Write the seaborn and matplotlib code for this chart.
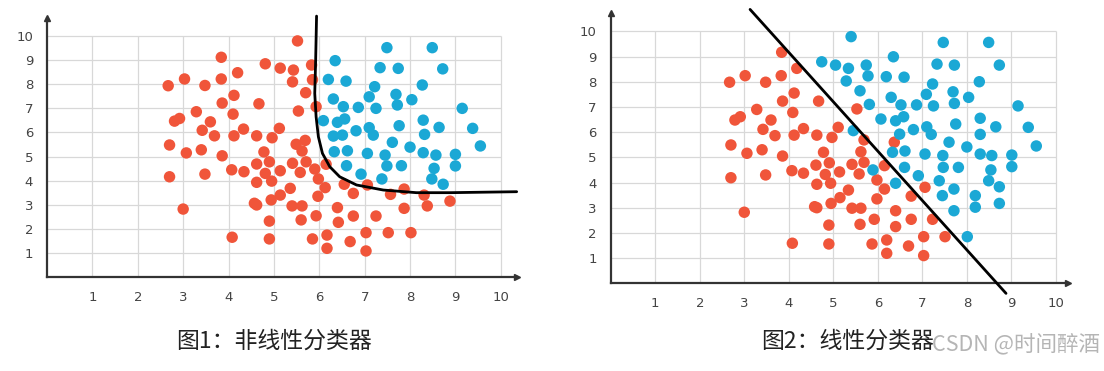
import numpy as np
import pandas as pd
import seaborn as sns
import matplotlib.pyplot as plt

# ---- figure 1 (nonlinear classifier) points ----
p1_red_x = [5.52, 3.84, 4.81, 5.14, 5.43, 5.83, 4.20, 3.03, 2.67, 3.48, 3.84, 5.41, 5.85, 5.70,
            4.12, 3.86, 4.67, 5.54, 5.93, 3.29, 4.10, 2.81, 2.92, 3.60, 3.42, 3.69, 4.12, 4.33,
            4.62, 4.96, 5.12, 2.70, 3.07, 3.40, 3.86, 4.78, 5.49, 5.69, 5.62, 2.70, 3.48, 4.07,
            4.34, 4.62, 4.90, 4.81, 5.14, 4.95, 4.62, 5.41, 5.71, 5.58, 5.90, 5.98, 6.15, 5.36,
            5.14, 4.94, 4.57, 4.62, 5.40, 5.62, 5.97, 6.13, 3.00, 4.90, 5.60, 5.93, 4.08, 4.90,
            5.85, 6.17, 6.17, 6.55, 6.75, 7.06, 7.57, 7.87, 8.31, 8.88, 8.38, 7.87, 6.40, 6.75,
            7.25, 6.42, 7.03, 7.52, 8.02, 6.68, 7.03]
p1_red_y = [9.80, 9.12, 8.85, 8.67, 8.59, 8.80, 8.48, 8.22, 7.94, 7.95, 8.22, 8.10, 8.19, 7.65,
            7.54, 7.22, 7.19, 6.89, 7.07, 6.86, 6.76, 6.47, 6.58, 6.44, 6.09, 5.86, 5.86, 6.14,
            5.86, 5.78, 6.17, 5.48, 5.15, 5.28, 5.03, 5.19, 5.51, 5.67, 5.23, 4.16, 4.27, 4.45,
            4.37, 4.69, 4.78, 4.30, 4.41, 3.98, 3.93, 4.72, 4.78, 4.34, 4.48, 4.07, 4.68, 3.68,
            3.40, 3.20, 3.06, 2.99, 2.95, 2.95, 3.35, 3.71, 2.82, 2.32, 2.37, 2.54, 1.65, 1.58,
            1.58, 1.74, 1.19, 3.85, 3.47, 3.82, 3.43, 3.65, 3.40, 3.15, 2.95, 2.85, 2.88, 2.53,
            2.53, 2.27, 1.84, 1.84, 1.84, 1.47, 1.08]
p1_blue_x = [7.49, 8.49, 6.35, 7.34, 7.74, 8.72, 6.20, 6.59, 7.22, 8.27, 7.10, 7.69, 7.72, 8.04,
             6.31, 6.53, 6.86, 7.25, 9.15, 6.09, 6.40, 6.56, 6.81, 7.10, 7.19, 7.76, 8.29, 8.64,
             9.38, 9.55, 6.31, 6.51, 8.32, 7.61, 8.00, 6.33, 6.62, 7.06, 7.45, 7.49, 7.81, 8.29,
             8.57, 9.00, 9.00, 6.60, 6.92, 7.38, 8.53, 8.48, 8.73]
p1_blue_y = [9.52, 9.52, 8.98, 8.69, 8.66, 8.64, 8.20, 8.13, 7.90, 7.97, 7.48, 7.58, 7.14, 7.36,
             7.39, 7.07, 7.04, 7.00, 7.00, 6.49, 6.42, 6.56, 6.07, 6.20, 5.89, 6.28, 6.51, 6.21,
             6.17, 5.44, 5.85, 5.89, 5.92, 5.59, 5.39, 5.20, 5.24, 5.13, 5.06, 4.61, 4.62, 5.16,
             5.06, 5.09, 4.61, 4.62, 4.27, 4.07, 4.51, 4.07, 3.85]
# curve
curve_x = [5.94, 5.92, 5.90, 5.93, 5.98, 6.07, 6.23, 6.45, 6.82, 7.41, 8.14, 8.88, 10.35]
curve_y = [10.83, 9.00, 7.62, 6.65, 5.82, 5.13, 4.58, 4.16, 3.82, 3.61, 3.50, 3.50, 3.54]

# ---- figure 2 (linear classifier) points ----
p2_red_x = [3.84, 4.18, 3.02, 2.67, 3.48, 3.83, 4.12, 3.86, 4.67, 5.53, 3.28, 4.09, 2.79, 2.91,
            3.60, 3.42, 3.69, 4.12, 4.33, 4.63, 4.97, 5.11, 2.70, 3.06, 3.40, 3.86, 4.78, 5.69,
            5.62, 2.70, 3.48, 4.07, 4.33, 4.61, 4.91, 4.82, 5.14, 4.94, 4.63, 5.42, 5.69, 5.58,
            5.34, 5.15, 4.95, 4.58, 4.63, 5.42, 5.62, 5.98, 6.15, 5.98, 6.15, 3.00, 4.90, 5.60,
            5.92, 4.08, 4.90, 5.87, 6.20, 6.20, 6.37, 6.75, 7.06, 6.40, 6.40, 6.75, 7.23, 7.03,
            7.51, 6.69, 7.03]
p2_red_y = [9.17, 8.53, 8.24, 7.98, 7.98, 8.24, 7.55, 7.23, 7.23, 6.92, 6.90, 6.78, 6.48, 6.61,
            6.48, 6.11, 5.86, 5.88, 6.14, 5.88, 5.79, 6.19, 5.49, 5.16, 5.30, 5.05, 5.20, 5.69,
            5.22, 4.19, 4.30, 4.47, 4.37, 4.69, 4.78, 4.32, 4.42, 3.97, 3.93, 4.72, 4.80, 4.34,
            3.70, 3.40, 3.17, 3.04, 3.00, 2.98, 2.98, 3.35, 3.74, 4.10, 4.67, 2.82, 2.31, 2.34,
            2.54, 1.59, 1.56, 1.56, 1.72, 1.19, 5.60, 3.46, 3.81, 2.88, 2.25, 2.54, 2.54, 1.85,
            1.85, 1.48, 1.10]
p2_blue_x = [5.40, 4.74, 5.05, 5.34, 5.74, 5.29, 5.78, 5.60, 5.81, 6.07, 5.45, 5.89, 7.47, 8.49,
             6.35, 7.33, 7.72, 8.73, 6.19, 6.59, 7.23, 8.28, 7.09, 7.69, 7.72, 8.04, 6.30, 6.52,
             6.87, 7.25, 9.15, 6.40, 6.58, 6.80, 7.10, 7.20, 7.75, 8.30, 8.65, 9.38, 9.56, 6.49,
             8.30, 7.60, 8.00, 6.33, 6.61, 7.06, 7.46, 7.47, 7.81, 8.30, 8.56, 9.01, 9.01, 6.60,
             6.91, 7.38, 8.54, 8.49, 8.73, 6.40, 7.45, 7.71, 8.19, 8.19, 8.73, 7.71, 8.01]
p2_blue_y = [9.79, 8.79, 8.66, 8.53, 8.66, 8.03, 8.23, 7.64, 7.10, 6.52, 6.06, 4.50, 9.56, 9.56,
             8.99, 8.70, 8.66, 8.66, 8.20, 8.18, 7.91, 8.00, 7.50, 7.60, 7.14, 7.38, 7.38, 7.08,
             7.08, 7.04, 7.04, 6.45, 6.61, 6.10, 6.21, 5.91, 6.32, 6.55, 6.21, 6.19, 5.45, 5.92,
             5.91, 5.60, 5.41, 5.20, 5.25, 5.13, 5.07, 4.60, 4.60, 5.13, 5.07, 5.09, 4.63, 4.60,
             4.27, 4.07, 4.50, 4.07, 3.83, 3.97, 3.48, 3.74, 3.48, 3.02, 3.17, 2.88, 1.85]
line_x = [3.13, 8.88]
line_y = [10.87, -0.40]

ticks = list(range(1, 11))
captions = ['图1：非线性分类器', '图2：线性分类器']
palette = {'red': '#f0553a', 'blue': '#1ba8d5'}

sns.set_style('white')
plt.rcParams['font.family'] = ['Noto Sans CJK SC', 'DejaVu Sans']

fig = plt.figure(figsize=(11.04, 3.71), dpi=100)
ax1 = fig.add_axes([0.0426, 0.2534, 0.4254, 0.698])
ax2 = fig.add_axes([0.5532, 0.2364, 0.4145, 0.7294])


def make_df(rx, ry, bx, by):
    return pd.DataFrame({
        'x': rx + bx,
        'y': ry + by,
        'cls': ['red'] * len(rx) + ['blue'] * len(bx),
    })


def style_axes(ax, xmax, ymax):
    ax.set_xlim(0, xmax)
    ax.set_ylim(0, ymax)
    ax.vlines(ticks, 0, 10, color='#d8d8d8', lw=0.9, zorder=0)
    ax.hlines(ticks, 0, 10, color='#d8d8d8', lw=0.9, zorder=0)
    for s in ['top', 'right']:
        ax.spines[s].set_visible(False)
    for s in ['left', 'bottom']:
        ax.spines[s].set_color('#333333')
        ax.spines[s].set_linewidth(1.6)
    ax.plot(0, 1, marker='^', ms=4, color='#333333', transform=ax.transAxes, clip_on=False)
    ax.plot(1, 0, marker='>', ms=4, color='#333333', transform=ax.transAxes, clip_on=False)
    ax.set_xticks(ticks)
    ax.set_yticks(ticks)
    ax.set_xticklabels([str(t) for t in ticks], family='DejaVu Sans')
    ax.set_yticklabels([str(t) for t in ticks], family='DejaVu Sans')
    ax.tick_params(length=0, pad=10, labelsize=9.5, labelcolor='#444444')
    ax.set_xlabel('')
    ax.set_ylabel('')


df1 = make_df(p1_red_x, p1_red_y, p1_blue_x, p1_blue_y)
sns.scatterplot(data=df1, x='x', y='y', hue='cls', palette=palette, s=68,
                edgecolor='none', legend=False, ax=ax1, zorder=3)
ax1.plot(curve_x, curve_y, color='black', lw=2, clip_on=False, zorder=4)
style_axes(ax1, 10.35, 10.75)

df2 = make_df(p2_red_x, p2_red_y, p2_blue_x, p2_blue_y)
sns.scatterplot(data=df2, x='x', y='y', hue='cls', palette=palette, s=68,
                edgecolor='none', legend=False, ax=ax2, zorder=3)
ax2.plot(line_x, line_y, color='black', lw=2, clip_on=False, zorder=4)
style_axes(ax2, 10.28, 10.74)

fig.text(274.5 / 1104, 1 - 341 / 371, captions[0], fontsize=16.5, color='#222222',
         ha='center', va='center')
fig.text(848 / 1104, 1 - 341 / 371, captions[1], fontsize=16.5, color='#222222',
         ha='center', va='center')
fig.text(1100 / 1104, 1 - 345 / 371, 'CSDN @时间醉酒', fontsize=15.5, color='#b5b5b5',
         ha='right', va='center')

fig.savefig('out.png', dpi=100)
